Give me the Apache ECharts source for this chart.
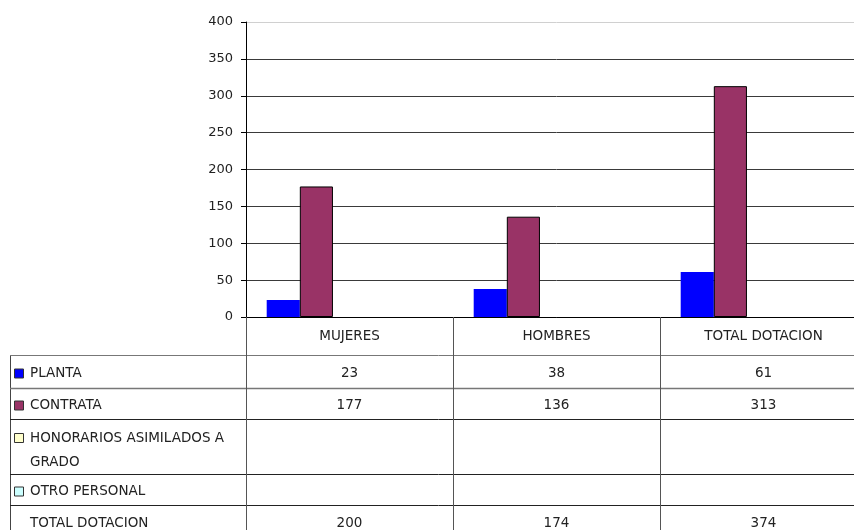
<!DOCTYPE html>
<html>
<head>
<meta charset="utf-8">
<script src="https://cdn.jsdelivr.net/npm/echarts@6/dist/echarts.min.js"></script>
<style>
  html, body { margin: 0; padding: 0; background: #fff; overflow: hidden; }
  /* plot area runs past the right edge of the page, as in the reference */
  #chart { width: 880px; height: 530px; }
</style>
</head>
<body>
<div id="chart"></div>
<script>
// data
const categories = ['MUJERES', 'HOMBRES', 'TOTAL DOTACION']
const planta = [23, 38, 61]
const contrata = [177, 136, 313]
const honorarios = [null, null, null]
const otroPersonal = [null, null, null]
const totalDotacion = [200, 174, 374]
const yTicks = [0, 50, 100, 150, 200, 250, 300, 350, 400]

const FONT = 'DejaVu Sans'
const TEXT = '#222'

const chart = echarts.init(document.getElementById('chart'), null, { renderer: 'canvas' })

const gridLeft = 246
const gridTop = 22
const gridWidth = 621
const gridHeight = 295

// split line colours: the 400 line is light, others dark
const splitColors = yTicks.map((v, i) => (i === yTicks.length - 1 ? '#d0d0d0' : '#3a3a3a'))

const option = {
  animation: false,
  backgroundColor: '#fff',
  grid: { left: gridLeft, top: gridTop, width: gridWidth, height: gridHeight },
  xAxis: {
    type: 'category',
    data: categories,
    axisLine: { show: true, lineStyle: { color: '#000', width: 1 } },
    axisTick: { show: true, length: 215, lineStyle: { color: '#555', width: 1 } },
    axisLabel: { margin: 12, fontFamily: FONT, fontSize: 13.5, color: TEXT },
    splitLine: { show: false }
  },
  yAxis: {
    type: 'value',
    min: 0,
    max: 400,
    interval: 50,
    axisLine: { show: true, lineStyle: { color: '#000', width: 1 } },
    axisTick: { show: true, length: 5, lineStyle: { color: '#000' } },
    axisLabel: { margin: 13, fontFamily: FONT, fontSize: 13, color: TEXT },
    splitLine: { show: true, lineStyle: { color: splitColors, width: 1 } }
  },
  series: [
    {
      name: 'PLANTA', type: 'bar', data: planta,
      barGap: 0, barCategoryGap: '20%',
      itemStyle: { color: '#0000ff' }
    },
    {
      name: 'CONTRATA', type: 'bar', data: contrata,
      itemStyle: { color: '#993366', borderColor: '#000', borderWidth: 1 }
    },
    {
      name: 'HONORARIOS ASIMILADOS A GRADO', type: 'bar', data: honorarios,
      itemStyle: { color: '#ffffcc', borderColor: '#000', borderWidth: 1 }
    },
    {
      name: 'OTRO PERSONAL', type: 'bar', data: otroPersonal,
      itemStyle: { color: '#ccffff', borderColor: '#000', borderWidth: 1 }
    },
    {
      // total row shares the layout slot but has no visible bars in the chart
      name: 'TOTAL DOTACION', type: 'bar', data: [],
      itemStyle: { color: 'transparent' }
    }
  ]
}
chart.setOption(option)

// data table below the plot
const rows = [
  { label: ['PLANTA'], color: '#0000ff', values: planta, top: 355, bottom: 388 },
  { label: ['CONTRATA'], color: '#993366', values: contrata, top: 388, bottom: 419 },
  { label: ['HONORARIOS ASIMILADOS A', 'GRADO'], color: '#ffffcc', values: honorarios, top: 419, bottom: 474 },
  { label: ['OTRO PERSONAL'], color: '#ccffff', values: otroPersonal, top: 474, bottom: 505 },
  { label: ['TOTAL DOTACION'], color: null, values: totalDotacion, top: 505, bottom: 537 }
]

const tableLeft = 10
const tableRight = gridLeft + gridWidth
const graphics = []

// left border of the table
graphics.push({
  type: 'line', silent: true,
  shape: { x1: tableLeft + 0.5, y1: 355, x2: tableLeft + 0.5, y2: 530 },
  style: { stroke: '#444', lineWidth: 1 }
})

rows.forEach((row, ri) => {
  graphics.push({
    type: 'line', silent: true,
    shape: { x1: tableLeft, y1: row.top + 0.5, x2: tableRight, y2: row.top + 0.5 },
    style: { stroke: ri < 2 ? '#777' : '#222', lineWidth: ri === 1 ? 1.5 : 1 }
  })
  const multi = row.label.length > 1
  const centerY = (row.top + row.bottom) / 2 + 2
  const firstY = multi ? row.top + 19 : centerY
  if (row.color) {
    graphics.push({
      type: 'rect', silent: true,
      shape: { x: 14.5, y: firstY - 4.5, width: 9, height: 9 },
      style: { fill: row.color, stroke: '#333', lineWidth: 1 }
    })
  }
  row.label.forEach((t, li) => {
    graphics.push({
      type: 'text', silent: true,
      style: {
        x: 30, y: firstY + li * 24,
        text: t, fill: TEXT, font: '13.5px ' + FONT, verticalAlign: 'middle'
      }
    })
  })
  row.values.forEach((v, ci) => {
    if (v == null) return
    const px = chart.convertToPixel({ xAxisIndex: 0 }, categories[ci])
    graphics.push({
      type: 'text', silent: true,
      style: {
        x: px, y: centerY, text: String(v), fill: TEXT,
        font: '13.5px ' + FONT, align: 'center', verticalAlign: 'middle'
      }
    })
  })
})

chart.setOption({ graphic: graphics })
</script>
</body>
</html>
